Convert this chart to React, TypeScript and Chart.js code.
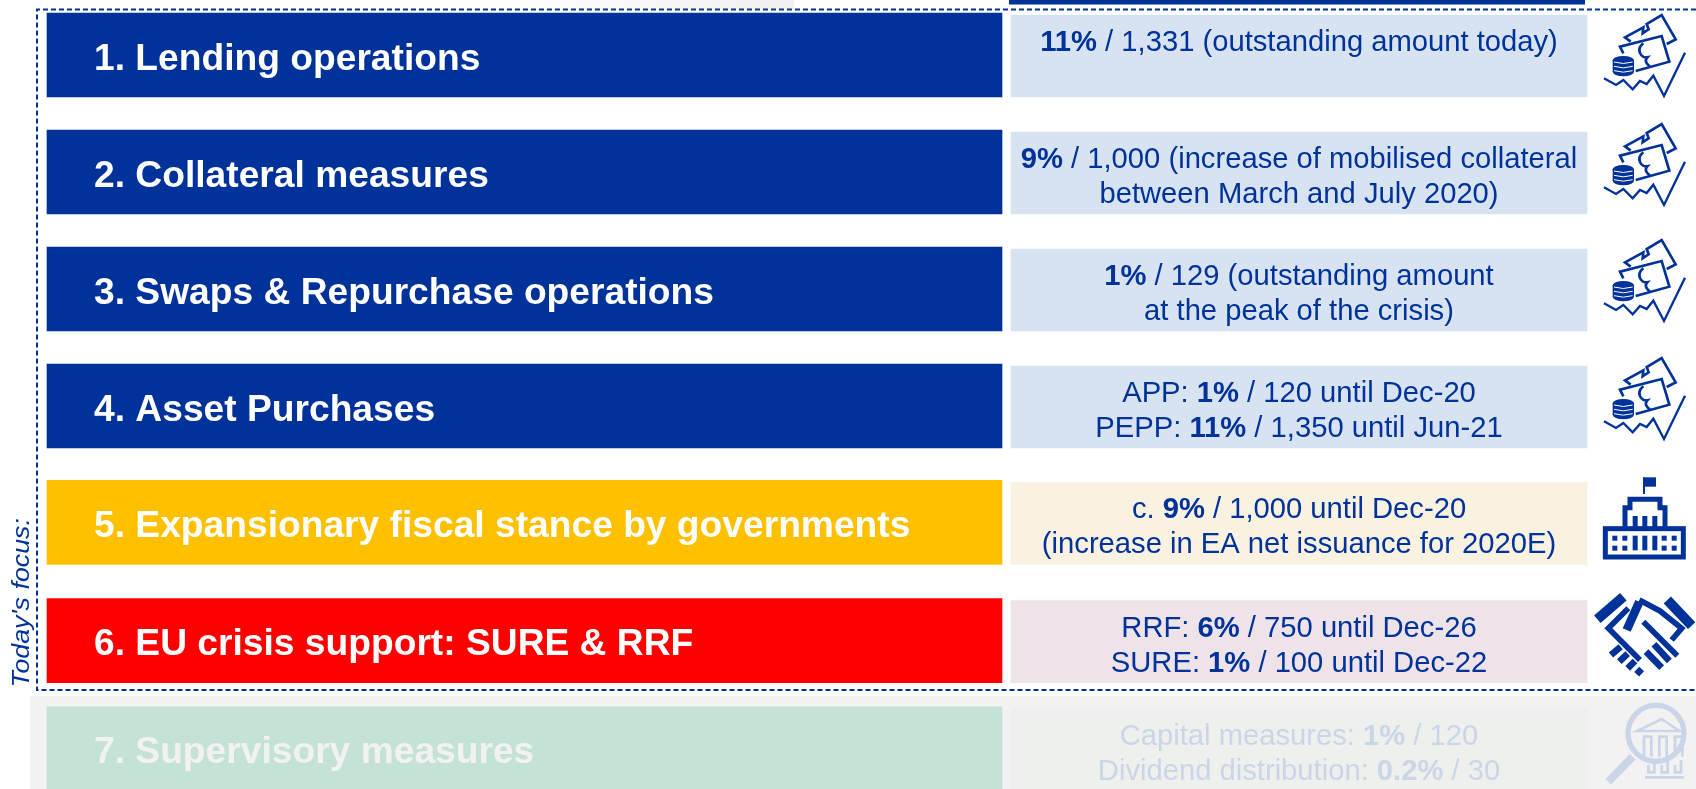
import React, { useEffect, useRef } from "react";
import { Chart, registerables } from "chart.js";

Chart.register(...registerables);

// ---- chart content ----
const measures = [
  "1. Lending operations",
  "2. Collateral measures",
  "3. Swaps & Repurchase operations",
  "4. Asset Purchases",
  "5. Expansionary fiscal stance by governments",
  "6. EU crisis support: SURE & RRF",
  "7. Supervisory measures",
];
// each line is a list of [text, bold] runs
type Run = [string, boolean];
const sizeLines: Run[][][] = [
  [[["11%", true], [" / 1,331 (outstanding amount today)", false]]],
  [
    [["9%", true], [" / 1,000 (increase of mobilised collateral", false]],
    [["between March and July 2020)", false]],
  ],
  [
    [["1%", true], [" / 129 (outstanding amount", false]],
    [["at the peak of the crisis)", false]],
  ],
  [
    [["APP: ", false], ["1%", true], [" / 120 until Dec-20", false]],
    [["PEPP: ", false], ["11%", true], [" / 1,350 until Jun-21", false]],
  ],
  [
    [["c. ", false], ["9%", true], [" / 1,000 until Dec-20", false]],
    [["(increase in EA net issuance for 2020E)", false]],
  ],
  [
    [["RRF: ", false], ["6%", true], [" / 750 until Dec-26", false]],
    [["SURE: ", false], ["1%", true], [" / 100 until Dec-22", false]],
  ],
  [
    [["Capital measures: ", false], ["1%", true], [" / 120", false]],
    [["Dividend distribution: ", false], ["0.2%", true], [" / 30", false]],
  ],
];
const sideNote = "Today's focus:";
const rowOrder = [0, 1, 2, 3, 3.995, 5.005, 5.93];

// ---- styling ----
const BLUE = "#003299";
const FADED = "#CAD6E8";
const FONT = '"Liberation Sans", Arial, sans-serif';
const titleColours = [BLUE, BLUE, BLUE, BLUE, "#FFC000", "#FF0000", "#C4E3D4"];
const titleInk = ["#FFF", "#FFF", "#FFF", "#FFF", "#FFF", "#FFF", "#F2F2F2"];
const boxColours = ["#D8E3F1", "#D8E3F1", "#D8E3F1", "#D8E3F1", "#F9F2E1", "#EEE3E9", "#EEF0EE"];
const boxInk = [BLUE, BLUE, BLUE, BLUE, BLUE, BLUE, FADED];

const W = 1696;
const H = 789;
const PITCH = 117;
const Y_MIN = -55 / PITCH;

type Ctx = CanvasRenderingContext2D;

function poly(ctx: Ctx, pts: number[][], close = false) {
  ctx.beginPath();
  pts.forEach((p, i) => (i ? ctx.lineTo(p[0], p[1]) : ctx.moveTo(p[0], p[1])));
  if (close) ctx.closePath();
  ctx.stroke();
}

// icons are sketched in a 3x local grid
function moneyIcon(ctx: Ctx, ox: number, oy: number) {
  ctx.save();
  ctx.translate(ox, oy);
  ctx.scale(1 / 3, 1 / 3);
  ctx.strokeStyle = BLUE;
  ctx.fillStyle = BLUE;
  ctx.lineWidth = 8;
  ctx.lineJoin = "miter";
  poly(ctx, [[122, 125], [105, 112], [160, 82], [158, 100], [176, 88], [170, 72], [215, 45], [257, 118], [230, 132]]);
  poly(ctx, [[100, 160], [90, 140], [215, 108], [238, 185], [137, 213]]);
  ctx.beginPath();
  ctx.moveTo(160, 130);
  ctx.bezierCurveTo(135, 150, 155, 175, 172, 172);
  ctx.bezierCurveTo(160, 185, 175, 195, 180, 200);
  ctx.stroke();
  // coin stack
  ctx.beginPath();
  ctx.ellipse(100, 181, 32, 13, 0, 0, Math.PI * 2);
  ctx.fill();
  ctx.beginPath();
  ctx.ellipse(100, 215, 32, 14, 0, 0, Math.PI * 2);
  ctx.fill();
  ctx.fillRect(68, 181, 64, 34);
  ctx.strokeStyle = "#FFF";
  ctx.lineWidth = 3;
  [186, 199, 212].forEach((y) => {
    ctx.beginPath();
    ctx.moveTo(72, y);
    ctx.quadraticCurveTo(100, y + 9, 128, y);
    ctx.stroke();
  });
  ctx.strokeStyle = BLUE;
  ctx.lineWidth = 7;
  poly(ctx, [[42, 235], [78, 255], [100, 240], [128, 268], [150, 243], [170, 252], [190, 227], [222, 288], [285, 158]]);
  ctx.restore();
}

function buildingIcon(ctx: Ctx, ox: number, oy: number) {
  ctx.save();
  ctx.translate(ox, oy);
  ctx.scale(1 / 3, 1 / 3);
  ctx.strokeStyle = BLUE;
  ctx.fillStyle = BLUE;
  ctx.lineWidth = 15;
  ctx.strokeRect(76, 176, 234, 85);
  poly(ctx, [[135, 170], [135, 113], [150, 113], [150, 88], [240, 88], [240, 113], [255, 113], [255, 170]]);
  ctx.fillRect(191, 22, 37, 28);
  ctx.fillRect(189, 22, 6, 50);
  [158, 187, 217].forEach((x) => {
    ctx.fillRect(x, 138, 15, 44);
    ctx.fillRect(x, 197, 15, 44);
  });
  [97, 127, 245, 275].forEach((x) => {
    ctx.fillRect(x, 197, 15, 15);
    ctx.fillRect(x, 227, 15, 15);
  });
  ctx.restore();
}

function handshakeIcon(ctx: Ctx, ox: number, oy: number) {
  ctx.save();
  ctx.translate(ox, oy);
  ctx.scale(1 / 3, 1 / 3);
  ctx.strokeStyle = BLUE;
  ctx.lineWidth = 30;
  poly(ctx, [[52, 103], [130, 35]]);
  poly(ctx, [[262, 45], [335, 122]]);
  ctx.lineWidth = 17;
  poly(ctx, [[145, 70], [85, 130], [180, 225]]);
  ctx.lineWidth = 26;
  poly(ctx, [[140, 135], [178, 50]]);
  ctx.lineWidth = 17;
  poly(ctx, [[178, 45], [240, 78], [305, 130], [275, 165]]);
  poly(ctx, [[190, 110], [292, 212]]);
  ctx.lineWidth = 20;
  poly(ctx, [[198, 200], [245, 248]]);
  poly(ctx, [[222, 178], [268, 228]]);
  poly(ctx, [[93, 210], [122, 185]]);
  poly(ctx, [[118, 230], [143, 206]]);
  poly(ctx, [[143, 250], [165, 228]]);
  poly(ctx, [[170, 268], [185, 252]]);
  ctx.restore();
}

function magnifierIcon(ctx: Ctx, ox: number, oy: number) {
  ctx.save();
  ctx.translate(ox, oy);
  ctx.scale(1 / 3, 1 / 3);
  ctx.strokeStyle = FADED;
  ctx.fillStyle = FADED;
  ctx.lineWidth = 16;
  ctx.beginPath();
  ctx.arc(228, 445, 84, 0, Math.PI * 2);
  ctx.stroke();
  ctx.lineWidth = 24;
  poly(ctx, [[158, 515], [85, 590]]);
  ctx.lineWidth = 8;
  poly(ctx, [[172, 438], [245, 402], [298, 438]], true);
  [192, 238, 285].forEach((x) => {
    poly(ctx, [[x, 515], [x, 455], [x + 22, 455], [x + 22, 515]]);
  });
  poly(ctx, [[195, 577], [312, 577]]);
  [205, 245, 285].forEach((x) => {
    poly(ctx, [[x, 540], [x, 562], [x + 18, 562], [x + 18, 525]]);
  });
  ctx.restore();
}

function drawLine(ctx: Ctx, runs: Run[], cx: number, y: number, size: number) {
  const fontOf = (b: boolean) => `${b ? "bold " : ""}${size}px ${FONT}`;
  let total = 0;
  runs.forEach(([t, b]) => {
    ctx.font = fontOf(b);
    total += ctx.measureText(t).width;
  });
  let x = cx - total / 2;
  ctx.textAlign = "left";
  runs.forEach(([t, b]) => {
    ctx.font = fontOf(b);
    ctx.fillText(t, x, y);
    x += ctx.measureText(t).width;
  });
}

const slideDecor = {
  id: "slideDecor",
  beforeDatasetsDraw(chart: Chart) {
    const ctx = chart.ctx;
    ctx.save();
    const g = ctx.createLinearGradient(497, 0, 794, 0);
    g.addColorStop(0, "#FFFFFF");
    g.addColorStop(1, "#F0F0F0");
    ctx.fillStyle = g;
    ctx.fillRect(497, 0, 297, 9);
    ctx.fillStyle = BLUE;
    ctx.fillRect(1009, 0, 576, 4.5);
    ctx.fillStyle = "#F2F2F2";
    ctx.fillRect(30, 696, W - 30, H - 696);
    ctx.restore();
  },
  afterDatasetsDraw(chart: Chart) {
    const ctx = chart.ctx;
    const y = chart.scales.y;
    ctx.save();
    ctx.textBaseline = "alphabetic";
    measures.forEach((m, i) => {
      const c = y.getPixelForValue(rowOrder[i]);
      ctx.fillStyle = titleInk[i];
      ctx.font = `bold 37.2px ${FONT}`;
      ctx.textAlign = "left";
      ctx.fillText(m, 94, c + 14.5);
      ctx.fillStyle = boxInk[i];
      sizeLines[i].forEach((runs, k) => {
        drawLine(ctx, runs, 1299, c + (k === 0 ? -4 : 31), 29.2);
      });
    });
    // dashed frame
    ctx.strokeStyle = BLUE;
    ctx.lineWidth = 2;
    ctx.setLineDash([5, 3]);
    ctx.beginPath();
    ctx.moveTo(W, 9.5);
    ctx.lineTo(37, 9.5);
    ctx.lineTo(37, 690);
    ctx.lineTo(W, 690);
    ctx.stroke();
    ctx.setLineDash([]);
    // side note
    ctx.save();
    ctx.translate(29, 687.5);
    ctx.rotate(-Math.PI / 2);
    ctx.scale(1.14, 1);
    ctx.font = `italic 23.5px ${FONT}`;
    ctx.textAlign = "left";
    ctx.fillStyle = BLUE;
    ctx.fillText(sideNote, 0, 0);
    ctx.restore();
    // icons
    [0, 109, 225, 343].forEach((d) => moneyIcon(ctx, 1590, d));
    buildingIcon(ctx, 1580, 470);
    handshakeIcon(ctx, 1580, 585);
    magnifierIcon(ctx, 1580, 585);
    ctx.restore();
  },
};

export default function App() {
  const ref = useRef<HTMLCanvasElement>(null);
  useEffect(() => {
    const chart = new Chart(ref.current as HTMLCanvasElement, {
      type: "bar",
      data: {
        datasets: [
          {
            label: "Measure",
            data: rowOrder.map((r) => ({ x: [47, 1002], y: r })),
            backgroundColor: titleColours,
            barThickness: 84,
          },
          {
            label: "Size",
            data: rowOrder.map((r) => ({ x: [1011, 1587], y: r + 1 / PITCH })),
            backgroundColor: boxColours,
            barThickness: 82,
          },
        ] as any,
      },
      plugins: [slideDecor as any],
      options: {
        indexAxis: "y",
        responsive: false,
        animation: false,
        grouped: false,
        layout: { padding: 0 },
        scales: {
          x: { type: "linear", min: 0, max: W, display: false, offset: false },
          y: { type: "linear", min: Y_MIN, max: Y_MIN + H / PITCH, reverse: true, display: false, offset: false },
        },
        plugins: { legend: { display: false }, tooltip: { enabled: false } },
      } as any,
    });
    return () => chart.destroy();
  }, []);
  return (
    <div style={{ position: "fixed", left: 0, top: 0, width: W, height: H, overflow: "hidden", background: "#FFF" }}>
      <canvas ref={ref} width={W} height={H} style={{ display: "block" }} />
    </div>
  );
}
